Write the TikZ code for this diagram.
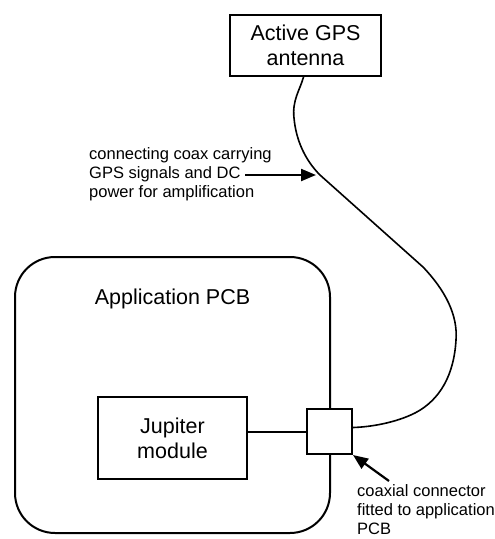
\documentclass[tikz,border=0pt]{standalone}
\usepackage{fontspec}
\setmainfont{Liberation Sans}
\usepackage{tikz}
\usetikzlibrary{shapes,arrows,arrows.meta}
\usetikzlibrary{positioning}
\tikzstyle{block} = [rectangle, draw, line width=2pt, align=center,
    inner sep=0pt, font=\fontsize{21.5}{25}\selectfont]
\tikzstyle{board} = [rectangle, draw, line width=2pt, rounded corners=40pt]
\tikzstyle{jack} = [rectangle, draw, fill=white, line width=2pt,
    minimum size=45pt, inner sep=0pt]
\tikzstyle{title} = [inner sep=0pt, font=\fontsize{21.5}{25}\selectfont]
\tikzstyle{note} = [align=left, inner sep=0pt, anchor=north west,
    font=\fontsize{16.5}{19}\selectfont]
\tikzstyle{cable} = [draw, line width=1.6pt]
\tikzstyle{edge} = [draw, line width=2pt, -]
\tikzstyle{line} = [draw, line width=2.2pt, -{Triangle[length=15pt,width=12pt]}]

\begin{document}
\begin{tikzpicture}[x=1pt, y=-1pt]
  \useasboundingbox (0,0) rectangle (495,539);
  % Place nodes

  \node [block, minimum width=151pt, minimum height=61pt] (ant) at (305.5,45.5) {Active GPS\\antenna};
  \node [board, minimum width=315pt, minimum height=276pt] (pcb) at (172.5,395) {};
  \node [title, below=33pt of pcb.north] (pcbname) {Application PCB};
  \node [block, minimum width=149pt, minimum height=82pt] (jup) at (172.5,438) {Jupiter\\module};
  \node [jack] (con) at (329.5,431.5) {};

  \node [note] (coaxlbl) at (89,147) {connecting coax carrying\\GPS signals and DC\\power for amplification};
  \node [note] (conlbl) at (357,484) {coaxial connector\\fitted to application\\PCB};
  \coordinate (coaxtail) at (245,175);
  \coordinate (coaxtip) at (316,175);
  \coordinate (contail) at (389,481);

  \path [edge] (con.west) -- (con.west -| jup.east);
  \path [cable] ([xshift=-2pt]ant.south) .. controls (300,90) and (292,100) .. (294,118)
    .. controls (296,140) and (305,160) .. (320,175) -- (423,267)
    .. controls (445,290) and (458,315) .. (456,340)
    .. controls (454,375) and (440,400) .. (415,413)
    .. controls (395,423) and (370,427) .. ([yshift=4pt]con.east);
  \path [line] (coaxtail) -- (coaxtip);
  \path [line] (contail) -- (con.south east);

\end{tikzpicture}
\end{document}
